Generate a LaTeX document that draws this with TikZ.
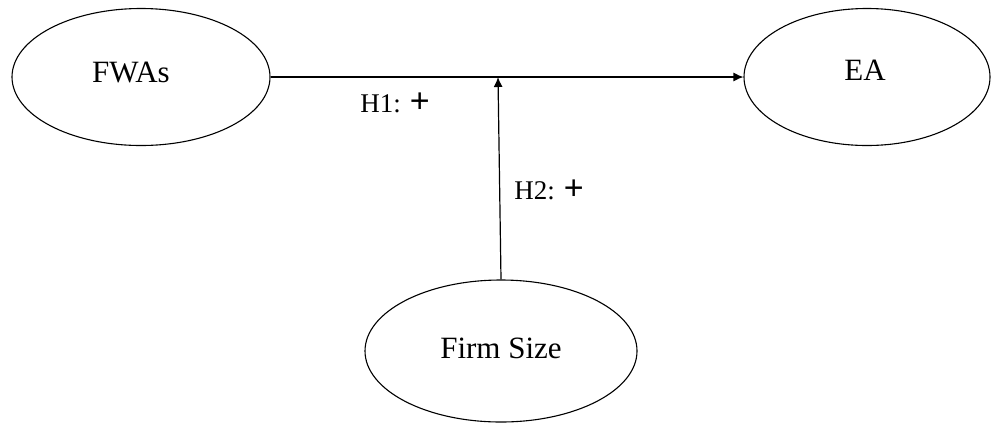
\documentclass[tikz,border=0pt]{standalone}
\usepackage{fontspec}
\setmainfont{Liberation Serif}
\newfontfamily\plusfont{Liberation Sans}
\usetikzlibrary{shapes.geometric,arrows.meta}
\begin{document}
\begin{tikzpicture}[x=1pt,y=-1pt,
  construct/.style={draw, ellipse, line width=1.1pt, inner sep=0pt},
  label/.style={inner sep=0pt, font=\fontsize{31}{36}\selectfont},
  link/.style={line width=1.2pt, -{Latex[length=10pt,width=9pt]}},
  hyp/.style={inner sep=0pt, font=\fontsize{27}{32}\selectfont}]
\useasboundingbox (0,0) rectangle (992,424);
\node[construct, minimum width=258pt, minimum height=137pt] (fwa) at (141,77) {};
\node[label] (fwat) at (131,72) {FWAs};
\node[construct, minimum width=246pt, minimum height=137pt] (ea) at (867,77) {};
\node[label] (eat) at (865,70) {EA};
\node[construct, minimum width=272pt, minimum height=142pt] (fs) at (501,351) {};
\node[label] (fst) at (501,348) {Firm Size};
\coordinate (m) at (498,77);
\draw[link] (fwa.east) -- (ea.west);
\draw[link] (fs.north) -- (m);
\node[hyp] (h1) at (395,103) {H1: {\plusfont\fontsize{34}{36}\selectfont +}};
\node[hyp] (h2) at (549,190) {H2: {\plusfont\fontsize{34}{36}\selectfont +}};
\end{tikzpicture}
\end{document}
